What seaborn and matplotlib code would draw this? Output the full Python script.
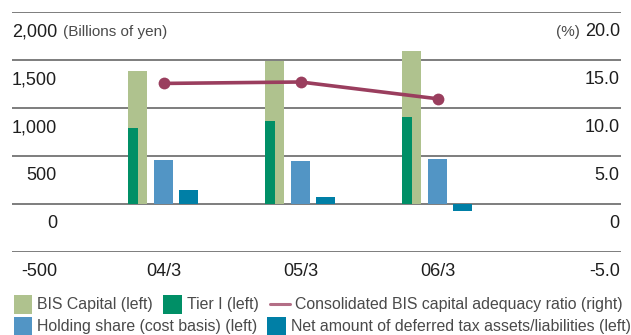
import numpy as np
import pandas as pd
import matplotlib
matplotlib.use("Agg")
import matplotlib.pyplot as plt
import matplotlib.transforms as mtransforms
from matplotlib.patches import Rectangle
from matplotlib.lines import Line2D
import seaborn as sns

# Fiscal year-end periods
periods = ["04/3", "05/3", "06/3"]

# Billions of yen (left axis)
bis_capital = [1387, 1492, 1596]
tier_one = [793, 866, 908]
holding_share = [459, 449, 469]
deferred_tax_net = [146, 73, -80]

# Percent (right axis)
bis_ratio = [12.55, 12.70, 10.95]

left_ticks = [2000, 1500, 1000, 500, 0, -500]
left_tick_labels = ["2,000", "1,500", "1,000", "500", "0", "-500"]
right_ticks = [20.0, 15.0, 10.0, 5.0, 0.0, -5.0]
right_tick_labels = ["20.0", "15.0", "10.0", "5.0", "0", "-5.0"]

C_BIS = "#AFC28E"
C_TIER = "#008F66"
C_HOLD = "#5295C5"
C_DTA = "#007FA6"
C_RATIO = "#9A3E5E"
C_GRID = "#5a5a5a"
C_TEXT = "#1e1e1e"
C_NOTE = "#4a4a4a"

sns.set_theme(style="white")
plt.rcParams["font.family"] = ["Liberation Sans", "DejaVu Sans"]

W, H = 631, 335
fig = plt.figure(figsize=(W / 100, H / 100), dpi=100)
ax = fig.add_axes([12 / W, 1 - 251.7 / H, 609 / W, (251.7 - 12) / H])
ax2 = ax.twinx()

pos = np.arange(len(periods), dtype=float)
bar_w = 0.139

series = [
    (pos - 0.190, bis_capital, bar_w, C_BIS),
    (pos - 0.2226, tier_one, 0.073, C_TIER),
    (pos, holding_share, bar_w, C_HOLD),
    (pos + 0.1825, deferred_tax_net, bar_w, C_DTA),
]
for xs, vals, w, c in series:
    df = pd.DataFrame({"x": xs, "y": vals})
    sns.barplot(data=df, x="x", y="y", native_scale=True, orient="x",
                width=w, color=c, saturation=1, linewidth=0,
                errorbar=None, ax=ax, zorder=3)

ratio_df = pd.DataFrame({"x": pos, "y": bis_ratio})
sns.lineplot(data=ratio_df, x="x", y="y", ax=ax2, color=C_RATIO,
             linewidth=2.6, marker="o", markersize=8.5,
             markeredgewidth=0, zorder=5)

xlim = (-1.106, 3.339)
ax.set_xlim(*xlim)
ax2.set_xlim(*xlim)
ax.set_ylim(-500, 2000)
ax2.set_ylim(-5, 20)

for a in (ax, ax2):
    a.set_xlabel("")
    a.set_ylabel("")
    a.set_xticks([])
    a.set_yticks([])
    for s in a.spines.values():
        s.set_visible(False)
    a.patch.set_visible(False)
    a.grid(False)

for t in left_ticks:
    ax.axhline(t, color=C_GRID, linewidth=1.1, zorder=1)

# Labels sit in the band just under their grid line
below = mtransforms.offset_copy(
    mtransforms.blended_transform_factory(ax.transAxes, ax.transData),
    fig=fig, y=-20, units="dots")
below2 = mtransforms.offset_copy(
    mtransforms.blended_transform_factory(ax2.transAxes, ax2.transData),
    fig=fig, y=-20, units="dots")
below_x = mtransforms.offset_copy(
    mtransforms.blended_transform_factory(ax.transData, ax.transData),
    fig=fig, y=-20, units="dots")

for t, lab in zip(left_ticks, left_tick_labels):
    ax.text(0.0739, t, lab, transform=below, ha="right", va="center",
            fontsize=13, color=C_TEXT)
ax.text(0.0838, left_ticks[0], "(Billions of yen)", transform=below,
        ha="left", va="center", fontsize=11, color=C_NOTE)

for t, lab in zip(right_ticks, right_tick_labels):
    ax2.text(0.998, t, lab, transform=below2, ha="right", va="center",
             fontsize=13, color=C_TEXT)
ax2.text(0.933, right_ticks[0], "(%)", transform=below2,
         ha="right", va="center", fontsize=11, color=C_NOTE)

for p, lab in zip(pos, periods):
    ax.text(p, -500, lab, transform=below_x, ha="center", va="center",
            fontsize=13, color=C_TEXT)

# Legend laid out in two rows under the plot
def px_rect(x0, y0, x1, y1, color):
    fig.add_artist(Rectangle((x0 / W, 1 - y1 / H), (x1 - x0) / W,
                             (y1 - y0) / H, transform=fig.transFigure,
                             facecolor=color, edgecolor="none"))

def px_text(x, y, s):
    fig.text(x / W, 1 - y / H, s, ha="left", va="center", fontsize=11.4,
             color=C_NOTE)

px_rect(14, 295, 32, 314, C_BIS)
px_text(37, 305, "BIS Capital (left)")
px_rect(163, 295, 182, 314, C_TIER)
px_text(187, 305, "Tier I (left)")
fig.add_artist(Line2D([270 / W, 290 / W], [1 - 304 / H, 1 - 304 / H],
                      transform=fig.transFigure, color=C_RATIO,
                      linewidth=2.2, alpha=0.75))
px_text(295, 305, "Consolidated BIS capital adequacy ratio (right)")
px_rect(14, 317, 32, 336, C_HOLD)
px_text(37, 326, "Holding share (cost basis) (left)")
px_rect(267, 317, 286, 336, C_DTA)
px_text(291, 326, "Net amount of deferred tax assets/liabilities (left)")

fig.savefig("out.png", dpi=100)
